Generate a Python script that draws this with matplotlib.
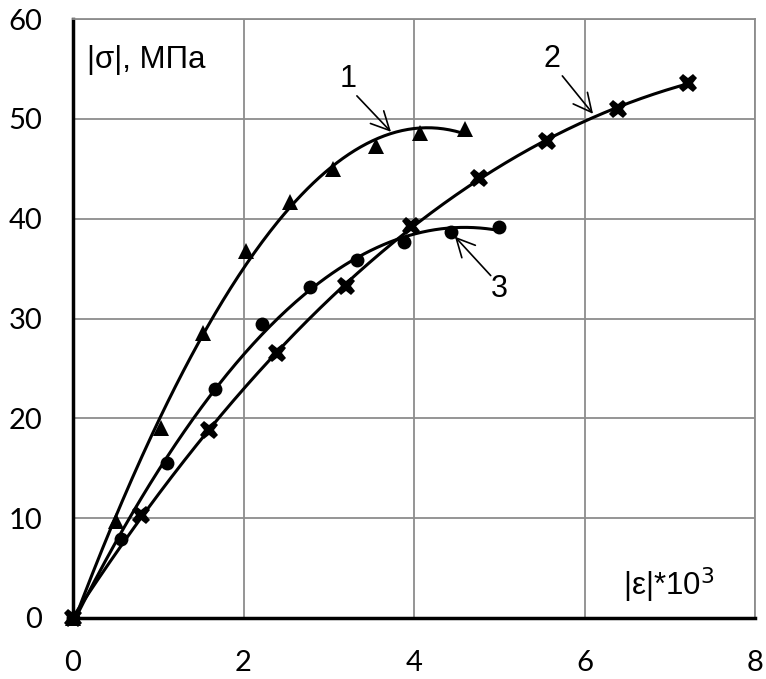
import numpy as np
import matplotlib
matplotlib.use("Agg")
import matplotlib.pyplot as plt

# Data
eps1 = [0, 0.50, 1.03, 1.53, 2.03, 2.55, 3.05, 3.55, 4.07, 4.60]
sig1 = [0, 9.7, 19.0, 28.5, 36.8, 41.7, 45.0, 47.3, 48.6, 49.0]

eps2 = [0, 0.80, 1.60, 2.39, 3.20, 3.97, 4.76, 5.56, 6.39, 7.21]
sig2 = [0, 10.3, 18.8, 26.5, 33.3, 39.3, 44.1, 47.8, 51.0, 53.6]

eps3 = [0, 0.56, 1.10, 1.67, 2.22, 2.78, 3.33, 3.88, 4.43, 5.00]
sig3 = [0, 7.9, 15.5, 22.9, 29.4, 33.2, 35.9, 37.7, 38.7, 39.2]

x_ticks = [0, 2, 4, 6, 8]
y_ticks = [0, 10, 20, 30, 40, 50, 60]

fig = plt.figure(figsize=(7.66, 6.79), dpi=100)
ax = fig.add_axes([73/766, 1-618/679, (755-73)/766, (618-19)/679])
ax.set_xlim(0, 8)
ax.set_ylim(0, 60)
ax.set_xticks(x_ticks)
ax.set_yticks(y_ticks)
ax.grid(True, color="#8c8c8c", linewidth=1.3)
ax.set_axisbelow(True)
for s in ["top", "right"]:
    ax.spines[s].set_color("#8c8c8c")
    ax.spines[s].set_linewidth(1.3)
for s in ["left", "bottom"]:
    ax.spines[s].set_color("black")
    ax.spines[s].set_linewidth(2.5)
ax.tick_params(axis="y", length=0, pad=22, labelsize=21)
ax.tick_params(axis="x", length=0, pad=23, labelsize=21)
for lab in ax.get_xticklabels() + ax.get_yticklabels():
    lab.set_family("Lato")

def curve(x, y, deg=3):
    c = np.polyfit(x, y, deg)
    xs = np.linspace(0, max(x), 200)
    return xs, np.polyval(c, xs)

for x, y, m, ms in [(eps1, sig1, "^", 11.5), (eps2, sig2, "X", 13), (eps3, sig3, "o", 10)]:
    xs, ys = curve(x, y)
    ax.plot(xs, ys, color="black", lw=2.2, zorder=3)
    ax.plot(x, y, linestyle="none", marker=m, color="black", markersize=ms,
            markeredgewidth=0, zorder=4, clip_on=False)

ax.text(0.17, 55.9, "|σ|, МПа", fontsize=22.5, family="Liberation Sans",
        va="center", ha="left")
ax.text(6.45, 3.3, "|ε|*10$^3$", fontsize=22.5, family="Liberation Sans",
        va="center", ha="left")

ann = dict(arrowstyle="->,head_length=0.6,head_width=0.3", color="black",
           lw=1.2, mutation_scale=22, shrinkA=0, shrinkB=0)
labels = [("1", (3.23, 54.0), (3.33, 52.3), (3.73, 48.7)),
          ("2", (5.62, 56.0), (5.74, 54.3), (6.10, 50.5)),
          ("3", (5.0, 33.0), (4.90, 34.3), (4.48, 38.2))]
for txt, pos, start, tip in labels:
    ax.text(pos[0], pos[1], txt, fontsize=22, family="Liberation Sans",
            ha="center", va="center")
    ax.annotate("", xy=tip, xytext=start, arrowprops=ann)

fig.savefig("out.png", dpi=100)
